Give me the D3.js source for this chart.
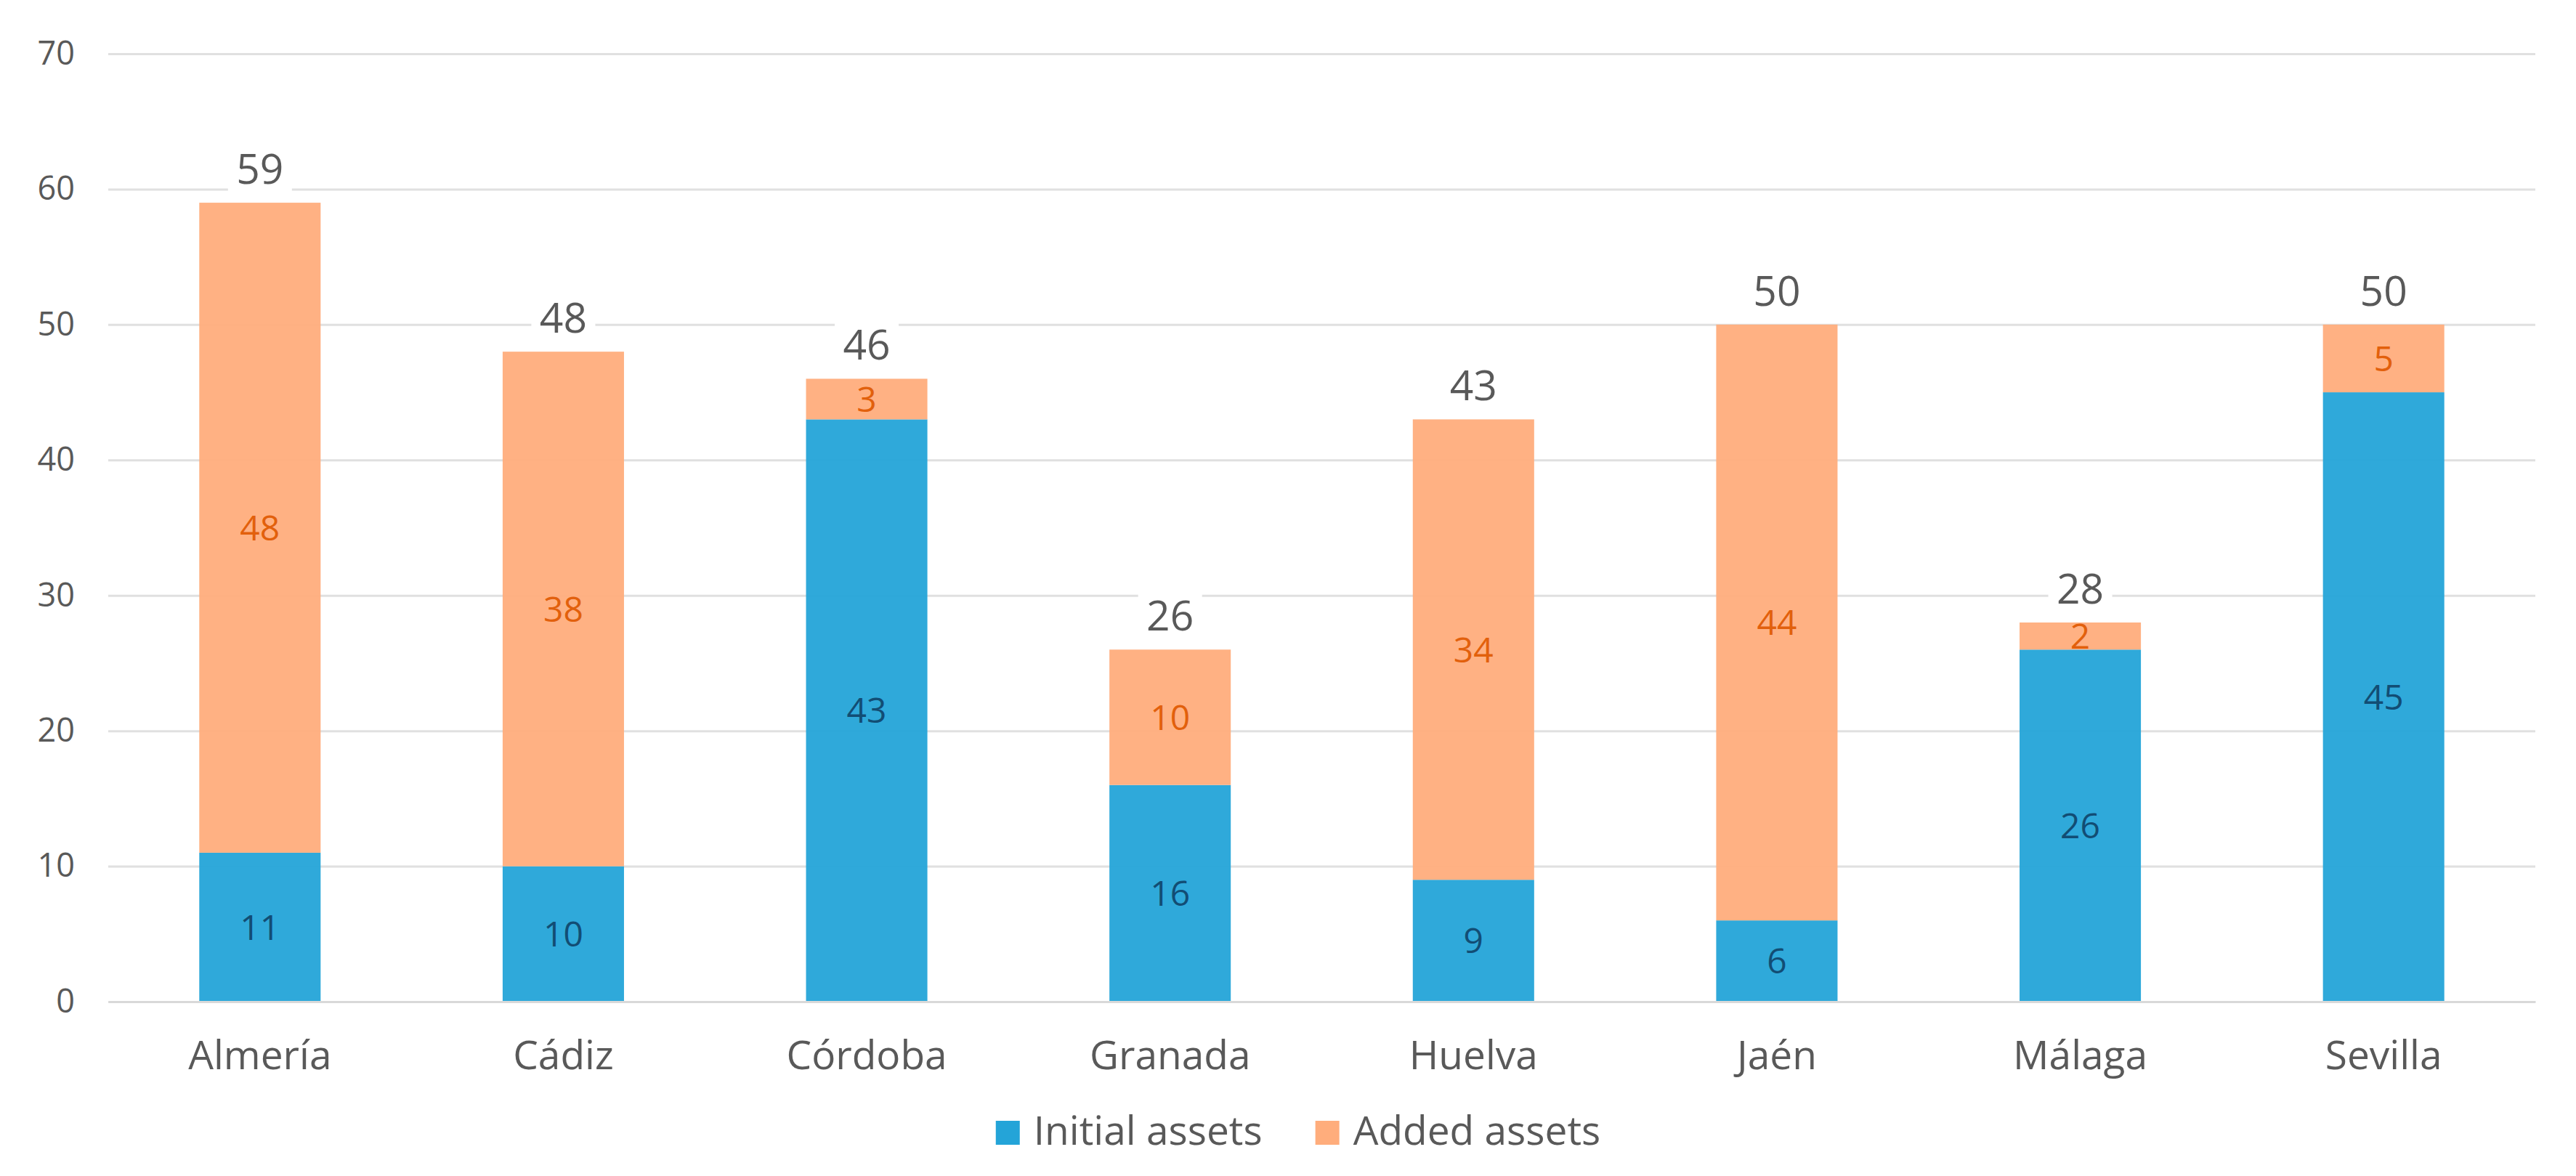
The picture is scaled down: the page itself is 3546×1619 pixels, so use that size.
<!DOCTYPE html>
<html>
<head>
<meta charset="utf-8">
<script src="https://cdn.jsdelivr.net/npm/d3@7"></script>
<style>
  html, body { margin: 0; padding: 0; background: #fff; }
  svg { display: block; font-family: "Open Sans", sans-serif; }
</style>
</head>
<body>
<svg id="viz"></svg>
<script>
var width = 3546;
var height = 1619;

// data
var provinces = ["Almería", "Cádiz", "Córdoba", "Granada", "Huelva", "Jaén", "Málaga", "Sevilla"];
var initialAssets = [11, 10, 43, 16, 9, 6, 26, 45];
var addedAssets = [48, 38, 3, 10, 34, 44, 2, 5];
var seriesNames = ["Initial assets", "Added assets"];
var yTicks = [0, 10, 20, 30, 40, 50, 60, 70];

var colors = ["#24a4d8", "#ffad7c"];
var labelColors = ["#124d74", "#e2600c"];

var margin = {top: 74, right: 56, bottom: 240, left: 149};

var svg = d3.select("#viz")
    .attr("width", width)
    .attr("height", height);

var rows = provinces.map(function(p, i) {
    return {province: p, initial: initialAssets[i], added: addedAssets[i]};
});

var x = d3.scaleBand()
    .domain(provinces)
    .range([margin.left, width - margin.right])
    .paddingInner(0.6)
    .paddingOuter(0.3);

var y = d3.scaleLinear()
    .domain([0, 70])
    .range([height - margin.bottom, margin.top]);

// gridlines + y labels
var yAxis = svg.append("g")
    .attr("transform", "translate(" + margin.left + ",0)")
    .call(d3.axisLeft(y)
        .tickValues(yTicks)
        .tickSize(-(width - margin.left - margin.right))
        .tickPadding(46));

yAxis.select(".domain").remove();
yAxis.selectAll(".tick line")
    .attr("stroke", "#e0e0e0")
    .attr("stroke-width", 3);
yAxis.selectAll(".tick text")
    .attr("fill", "#595959")
    .attr("font-size", 45)
    .attr("font-family", "Open Sans, sans-serif");

var stack = d3.stack().keys(["initial", "added"]);
var layers = stack(rows);

var groups = svg.append("g")
    .selectAll("g")
    .data(layers)
    .enter().append("g")
    .attr("fill", function(d, i) { return colors[i]; })
    .attr("fill-opacity", 0.95);

groups.selectAll("rect")
    .data(function(d) { return d; })
    .enter().append("rect")
    .attr("x", function(d) { return x(d.data.province); })
    .attr("width", x.bandwidth())
    .attr("y", function(d) { return y(d[1]); })
    .attr("height", function(d) { return y(d[0]) - y(d[1]); });

// segment labels
layers.forEach(function(layer, i) {
    svg.append("g")
        .selectAll("text")
        .data(layer)
        .enter().append("text")
        .attr("x", function(d) { return x(d.data.province) + x.bandwidth() / 2; })
        .attr("y", function(d) { return y((d[0] + d[1]) / 2); })
        .attr("dy", "0.36em")
        .attr("text-anchor", "middle")
        .attr("font-size", 48)
        .attr("fill", labelColors[i])
        .text(function(d) { return d[1] - d[0]; });
});

// totals with white box over the gridlines
var totals = svg.append("g")
    .selectAll("g")
    .data(rows)
    .enter().append("g")
    .attr("transform", function(d) {
        return "translate(" + (x(d.province) + x.bandwidth() / 2) + "," + (y(d.initial + d.added) - 26) + ")";
    });

totals.append("rect")
    .attr("x", -44)
    .attr("y", -54)
    .attr("width", 88)
    .attr("height", 66)
    .attr("fill", "#fff");

totals.append("text")
    .attr("text-anchor", "middle")
    .attr("font-size", 57)
    .attr("fill", "#595959")
    .text(function(d) { return d.initial + d.added; });

// category axis
var xAxis = svg.append("g")
    .attr("transform", "translate(0," + y(0) + ")")
    .call(d3.axisBottom(x).tickSize(0).tickPadding(0));

xAxis.select(".domain").attr("stroke", "#d9d9d9").attr("stroke-width", 3);
xAxis.selectAll(".tick text")
    .attr("y", 93)
    .attr("dy", 0)
    .attr("fill", "#595959")
    .attr("font-size", 55)
    .attr("font-family", "Open Sans, sans-serif");

// legend
var legend = svg.append("g");
var legendY = 1576;
var cursor = 0;
seriesNames.forEach(function(name, i) {
    var item = legend.append("g").attr("transform", "translate(" + cursor + ",0)");
    item.append("rect")
        .attr("x", 0)
        .attr("y", legendY - 33)
        .attr("width", 33)
        .attr("height", 33)
        .attr("fill", colors[i]);
    var t = item.append("text")
        .attr("x", 52)
        .attr("y", legendY)
        .attr("font-size", 55)
        .attr("fill", "#595959")
        .text(name);
    var w = t.node().getComputedTextLength();
    cursor += 52 + w + 73;
});
var legendWidth = cursor - 73;
legend.attr("transform", "translate(" + (1787 - legendWidth / 2) + ",0)");
</script>
</body>
</html>
